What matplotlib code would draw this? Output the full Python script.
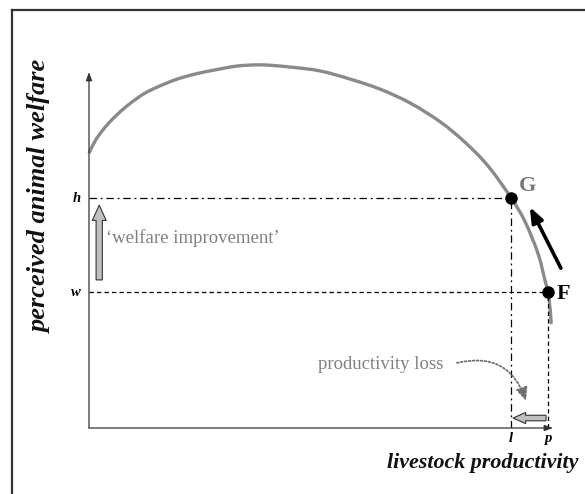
import matplotlib
matplotlib.use("Agg")
import matplotlib.pyplot as plt
from matplotlib.lines import Line2D
from matplotlib.path import Path
from matplotlib.patches import PathPatch

# ---- data (conceptual units: productivity 0-100, welfare 0-100) ----
curve_x = [0, 1.3, 2.8, 4.5, 6.7, 9.3, 12.1, 15.3, 19.0, 22.8, 27.2, 32.1, 37.3,
           43.3, 49.8, 56.3, 62.7, 69.2, 75.7, 81.0, 86.0, 91.0, 94.0, 96.8,
           98.3, 98.9, 99.4, 99.6]
curve_y = [77.2, 80.6, 83.4, 86.0, 88.8, 91.6, 94.1, 96.1, 98.0, 99.4, 100.6, 101.7, 102.0,
           101.4, 100.3, 98.0, 95.2, 91.3, 86.0, 80.3, 73.6, 64.6, 57.9, 48.9,
           41.3, 38.2, 33.2, 29.2]
prod_l, prod_p = 90.9, 98.9      # productivity at G and F
welf_h, welf_w = 64.6, 38.2      # welfare at G and F
tick_names = {"h": welf_h, "w": welf_w, "l": prod_l, "p": prod_p}

serif = "Liberation Serif"
fig = plt.figure(figsize=(5.85, 4.94), dpi=100)
fig.patch.set_facecolor("white")

# frame lines (top and left only visible)
fig.add_artist(Line2D([12/585, 12/585], [0, 1 - 10/494], transform=fig.transFigure,
                      color="#333333", lw=1.6))
fig.add_artist(Line2D([12/585, 1], [1 - 10/494, 1 - 10/494], transform=fig.transFigure,
                      color="#333333", lw=1.6))

ax = fig.add_axes([89/585, (494-428)/494, 464/585, 356/494])
ax.set_xlim(0, 100)
ax.set_ylim(0, 100)
ax.axis("off")

# axes with arrow heads
ax.annotate("", xy=(1.0, 0), xytext=(0, 0), xycoords="axes fraction",
            arrowprops=dict(arrowstyle="-|>,head_length=0.5,head_width=0.18",
                            color="#333333", lw=0.9, shrinkA=0, shrinkB=0))
ax.annotate("", xy=(0, 1.0), xytext=(0, 0), xycoords="axes fraction",
            arrowprops=dict(arrowstyle="-|>,head_length=0.5,head_width=0.18",
                            color="#333333", lw=0.9, shrinkA=0, shrinkB=0))

# smooth curve through the read points (Catmull-Rom -> cubic Bezier path)
pts = list(zip(curve_x, curve_y))
verts = [pts[0]]
codes = [Path.MOVETO]
n = len(pts)
for i in range(n - 1):
    p0 = pts[i - 1] if i > 0 else pts[i]
    p1 = pts[i]
    p2 = pts[i + 1]
    p3 = pts[i + 2] if i + 2 < n else pts[i + 1]
    c1 = (p1[0] + (p2[0] - p0[0]) / 6, p1[1] + (p2[1] - p0[1]) / 6)
    c2 = (p2[0] - (p3[0] - p1[0]) / 6, p2[1] - (p3[1] - p1[1]) / 6)
    verts += [c1, c2, p2]
    codes += [Path.CURVE4] * 3
ax.add_patch(PathPatch(Path(verts, codes), fill=False, ec="#8a8a8a", lw=2.4,
                       clip_on=False, capstyle="butt", joinstyle="round"))

# reference lines
ax.plot([0, prod_l], [welf_h, welf_h], color="black", lw=0.9, ls=(0, (6, 3, 1.5, 3)))
ax.plot([prod_l, prod_l], [0, welf_h], color="black", lw=0.9, ls=(0, (6, 3, 1.5, 3)))
ax.plot([0, prod_p], [welf_w, welf_w], color="black", lw=0.9, ls=(0, (3.5, 2.5)))
ax.plot([prod_p, prod_p], [0, welf_w], color="black", lw=0.9, ls=(0, (3.5, 2.5)))

# points
ax.plot([prod_l, prod_p], [welf_h, welf_w], "o", color="black", ms=8, clip_on=False, zorder=5)
ax.text(prod_l + 1.7, welf_h + 3.5, "G", fontfamily=serif, fontweight="bold",
        fontsize=16, color="#777777", ha="left", va="center")
ax.text(prod_p + 1.8, welf_w - 0.5, "F", fontfamily=serif, fontweight="bold",
        fontsize=16, color="black", ha="left", va="center")

# tick names
for name, val in tick_names.items():
    if name in ("h", "w"):
        ax.text(-1.7, val, name, fontfamily=serif, fontweight="bold", fontstyle="italic",
                fontsize=10.5, ha="right", va="center")
    else:
        ax.text(val, -1.0, name, fontfamily=serif, fontweight="bold", fontstyle="italic",
                fontsize=10.5, ha="center", va="top")

# black arrow along the curve
ax.annotate("", xy=(95.0, 62.1), xytext=(101.7, 44.9),
            arrowprops=dict(arrowstyle="-|>,head_length=0.9,head_width=0.35",
                            color="black", lw=2.6, shrinkA=0, shrinkB=0),
            annotation_clip=False)

# welfare improvement arrow
ax.annotate("", xy=(2.2, 62.6), xytext=(2.2, 41.6),
            arrowprops=dict(arrowstyle="simple,head_length=1.1,head_width=1.0,tail_width=0.45",
                            fc="#c0c0c0", ec="#333333", lw=0.8, shrinkA=0, shrinkB=0))
ax.text(3.6, 53.4, "\u2018welfare improvement\u2019", fontfamily=serif, fontsize=13.5,
        color="#808080", ha="left", va="center")

# productivity loss
ax.text(76.3, 17.7, "productivity loss", fontfamily=serif, fontsize=13.5,
        color="#808080", ha="right", va="center")
ax.annotate("", xy=(94.2, 7.6), xytext=(79.3, 18.3),
            arrowprops=dict(arrowstyle="-|>,head_length=0.8,head_width=0.35",
                            connectionstyle="arc3,rad=-0.45", color="#707070",
                            lw=1.3, ls=(0, (1, 1.2)), shrinkA=0, shrinkB=0))
ax.annotate("", xy=(91.4, 2.8), xytext=(98.5, 2.8),
            arrowprops=dict(arrowstyle="simple,head_length=0.9,head_width=0.8,tail_width=0.4",
                            fc="#c0c0c0", ec="#333333", lw=0.8, shrinkA=0, shrinkB=0))

# axis titles
fig.text(40/585, 1 - 196/494, "perceived animal welfare", rotation=90,
         fontfamily=serif, fontweight="bold", fontstyle="italic", fontsize=19,
         ha="center", va="center", color="#111111")
fig.text(578/585, 1 - 463/494, "livestock productivity",
         fontfamily=serif, fontweight="bold", fontstyle="italic", fontsize=15.8,
         ha="right", va="center", color="#111111")

fig.savefig("out.png", dpi=100, facecolor="white")
